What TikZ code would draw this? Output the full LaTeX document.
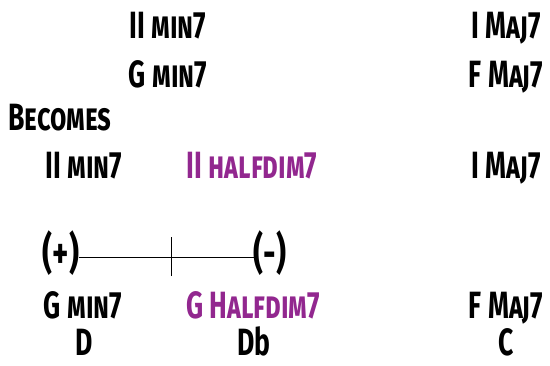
\documentclass[tikz,border=0pt]{standalone}
\usepackage{fontspec}
\setmainfont{Fira Sans}[BoldFont=* Bold, Letters=SmallCaps, FakeStretch=0.7]
\newfontfamily\plainfont{Fira Sans}[BoldFont=* Bold, FakeStretch=0.7]
\definecolor{chordpurple}{HTML}{92278F}
\tikzset{
  lbl/.style={inner sep=0pt, anchor=base, font=\fontsize{38}{40}\selectfont\bfseries},
  sign/.style={lbl, font=\fontsize{44}{46}\selectfont\bfseries},
  hl/.style={lbl, text=chordpurple},
  axis/.style={line width=0.9pt}
}
\begin{document}
\begin{tikzpicture}[x=1pt,y=-1pt]
\useasboundingbox (0,0) rectangle (550,365);
% top
\node[lbl] (t1) at (168,38) {II min7};
\node[lbl] (t2) at (506,38) {I Maj7};
\node[lbl] (t3) at (168,87) {G min7};
\node[lbl] (t4) at (506,87) {F Maj7};
\node[lbl] (bec) at (60,130) {Becomes};
% row three
\node[lbl] (r1) at (84,178) {II min7};
\node[hl]  (r2) at (252,178) {II halfdim7};
\node[lbl] (r3) at (506,178) {I Maj7};
% line
\node[sign] (plus) at (61,268) {(+)};
\node[sign] (minus) at (270,268) {(-)};
\coordinate (tick) at (171,257);
\draw[axis] (plus.east |- tick) -- (minus.west |- tick);
\draw[axis] ([yshift=-19pt]tick) -- ([yshift=20pt]tick);
% lower rows
\node[lbl] (g1) at (83,318) {G min7};
\node[hl]  (g2) at (253,318) {G Halfdim7};
\node[lbl] (g3) at (506,318) {F Maj7};
\node[lbl] (n1) at (84,355) {D};
\node[lbl] (n2) at (254,355) {D{\plainfont b}};
\node[lbl] (n3) at (506,355) {C};
\end{tikzpicture}
\end{document}
